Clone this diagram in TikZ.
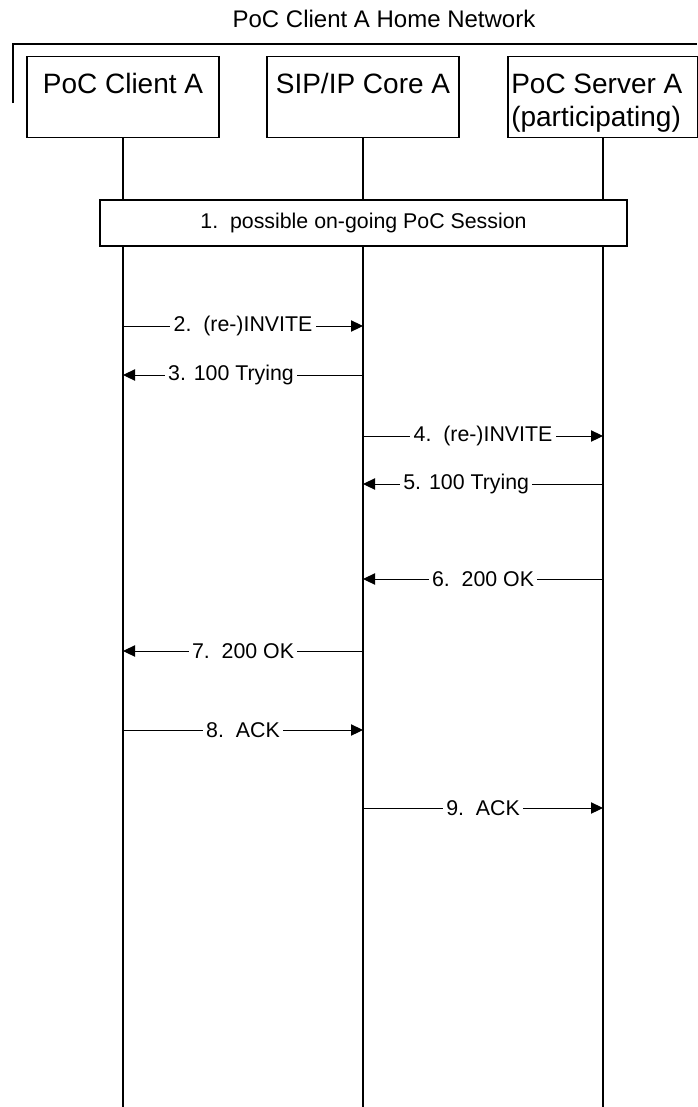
\documentclass[tikz,border=0pt]{standalone}
\usepackage{fontspec}
\setmainfont{Liberation Sans}
\usetikzlibrary{arrows.meta,positioning}
\tikzset{
  entity/.style={draw,line width=0.8pt,minimum width=142.5pt,minimum height=60.75pt,inner sep=0pt},
  entitytext/.style={font=\fontsize{21}{24.75}\selectfont,inner sep=0pt},
  lifeline/.style={line width=1.1pt},
  msg/.style={line width=0.75pt,-{Triangle[length=9pt,width=8.5pt]}},
  msgtext/.style={font=\fontsize{16}{19}\selectfont,fill=white,inner xsep=2.5pt,inner ysep=1pt},
}
\begin{document}
\begin{tikzpicture}[x=0.75pt,y=-0.75pt]
  \useasboundingbox (0,0) rectangle (698,1107);
  \def\xA{123} % lifeline positions
  \def\xB{363}
  \def\xC{603}
  \coordinate (bottom) at (0,1107);
  % network frame
  \node[font=\fontsize{18}{21}\selectfont] (net) at (384,19) {PoC Client A Home Network};
  \draw[line width=0.8pt] (13,103) -- (13,44) -- (697,44);
  % entities
  \node[entity,minimum width=144pt] (ca) at (\xA,97) {};
  \node[entity,minimum width=144pt] (core) at (\xB,97) {};
  \node[entity] (srv) at (\xC,97) {};
  \node[entitytext] (catext) at (\xA,83) {PoC Client A};
  \node[entitytext] (coretext) at (\xB,83) {SIP/IP Core A};
  \node[entitytext,align=left,anchor=west] (srvtext) at (511,103) {PoC Server A\\(participating)};
  \draw[lifeline] (ca) -- (ca |- bottom);
  \draw[lifeline] (core) -- (core |- bottom);
  \draw[lifeline] (srv) -- (srv |- bottom);
  % session
  \node[draw,line width=0.8pt,fill=white,minimum width=395.25pt,minimum height=34.5pt,
        font=\fontsize{16}{19}\selectfont] (sess) at (363.5,223) {1.\ \ possible on-going PoC Session};
  % messages
  \foreach \n/\y/\from/\to/\txt/\p in {
      2/326/\xA/\xB/{2.\ \ (re-)INVITE}/0.5,
      3/375/\xB/\xA/{3. 100 Trying}/0.55,
      4/436/\xB/\xC/{4.\ \ (re-)INVITE}/0.5,
      5/484/\xC/\xB/{5. 100 Trying}/0.57,
      6/579/\xC/\xB/{6.\ \ 200 OK}/0.5,
      7/651/\xB/\xA/{7.\ \ 200 OK}/0.5,
      8/730/\xA/\xB/{8.\ \ ACK}/0.5,
      9/808/\xB/\xC/{9.\ \ ACK}/0.5}{
    \coordinate (s\n) at (\from,\y);
    \coordinate (e\n) at (\to,\y);
    \draw[msg] (s\n) -- node[msgtext,pos=\p] (l\n) {\txt} (e\n);
  }
\end{tikzpicture}
\end{document}
